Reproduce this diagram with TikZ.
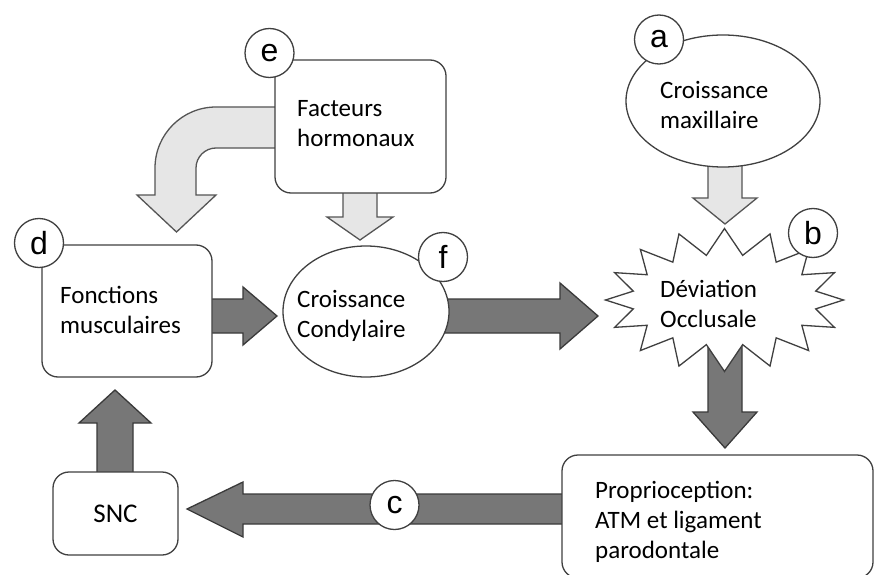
\documentclass[tikz,border=0pt]{standalone}
\usepackage{fontspec}
\setmainfont{Carlito}
\newfontfamily\letterfont{Liberation Sans}
\usetikzlibrary{shapes.geometric,shapes.symbols,calc}
\pgfdeclarelayer{back}
\pgfdeclarelayer{bg}
\pgfsetlayers{back,bg,main}
\definecolor{edge}{HTML}{404040}
\definecolor{lightfill}{HTML}{E6E6E6}
\definecolor{lightedge}{HTML}{555555}
\definecolor{darkfill}{HTML}{777777}
\definecolor{darkedge}{HTML}{3A3A3A}
\begin{document}
\begin{tikzpicture}[x=1pt,y=-1pt,
  every node/.style={font=\fontsize{25}{30}\selectfont},
  box/.style={draw=edge, line width=1.3pt, fill=white, rounded corners=16pt, inner sep=0pt},
  oval/.style={ellipse, draw=edge, line width=1.3pt, fill=white, inner sep=0pt},
  burst/.style={starburst, starburst points=16, starburst point height=26pt, random starburst=0,
    draw=edge, line width=1.3pt, fill=white, inner sep=0pt},
  tag/.style={circle, draw=edge, line width=1.3pt, fill=white, minimum size=49pt, inner sep=0pt,
    font=\letterfont\fontsize{32}{32}\selectfont},
  lightarr/.style={draw=lightedge, fill=lightfill, line width=1.3pt},
  darkarr/.style={draw=darkedge, fill=darkfill, line width=1.3pt},
  txt/.style={align=left, anchor=west, inner sep=0pt}
]
\begin{pgfonlayer}{back}
\fill[white] (0,0) rectangle (875,575);
\end{pgfonlayer}
\useasboundingbox (0,0) rectangle (875,575);

% main shapes
\node[box, minimum width=171pt, minimum height=133pt] (fh) at (360.5,126.5) {};
\node[txt] (fhtxt) at (297,124) {Facteurs\\hormonaux};

\node[box, minimum width=170pt, minimum height=132pt] (fm) at (127,311) {};
\node[txt] (fmtxt) at (60,309.5) {Fonctions\\musculaires};

\node[oval, minimum width=166pt, minimum height=131pt] (cc) at (366,311.5) {};
\node[txt] (cctxt) at (297,316) {Croissance\\Condylaire};

\node[oval, minimum width=194pt, minimum height=132pt] (cm) at (723,101) {};
\node[txt] (cmtxt) at (660,105) {Croissance\\maxillaire};

\node[burst, minimum width=238pt, minimum height=143pt] (dev) at (724.5,300) {};
\node[txt] (devtxt) at (660,304) {Déviation\\Occlusale};

\node[box, minimum width=125pt, minimum height=83pt, font=\fontsize{27}{30}\selectfont] (snc) at (115.5,513.5) {SNC};

\node[box, minimum width=311pt, minimum height=123pt] (prop) at (717.5,516.5) {};
\node[txt] (proptxt) at (595,522) {Proprioception:\\ATM et ligament\\parodontale};

% letter tags
\node[tag] (ta) at (659,39.5) {a};
\node[tag] (tb) at (813,233) {b};
\node[tag] (tc) at (394.5,505) {c};
\node[tag] (td) at (39,243) {d};
\node[tag] (te) at (269.5,53) {e};
\node[tag] (tf) at (443,257) {f};

% block arrows
\begin{pgfonlayer}{bg}
\draw[darkarr] (fm.center |- 0,299) -- (243,299) -- (243,287) -- (277,316) -- (243,345)
  -- (243,333) -- (fm.center |- 0,333) -- cycle;
\draw[darkarr] (cc.center |- 0,299) -- (560,299) -- (560,283) -- (598,316) -- (560,349)
  -- (560,333) -- (cc.center |- 0,333) -- cycle;
\draw[lightarr] (cm.center -| 708,0) -- (708,198) -- (693,198) -- (725,224) -- (757,198)
  -- (742,198) -- (cm.center -| 742,0) -- cycle;
\draw[darkarr] (dev.center -| 708,0) -- (708,412) -- (693,412) -- (725,448) -- (757,412)
  -- (742,412) -- (dev.center -| 742,0) -- cycle;
\draw[darkarr] (prop.center |- 0,494) -- (243,494) -- (243,482) -- (187,509) -- (243,537)
  -- (243,524) -- (prop.center |- 0,524) -- cycle;
\draw[darkarr] (snc.center -| 97,0) -- (97,423) -- (79,423) -- (115,390) -- (151,423)
  -- (133,423) -- (snc.center -| 133,0) -- cycle;
\draw[lightarr] (fh.center -| 343,0) -- (343,217) -- (327,217) -- (360,240) -- (393,217)
  -- (377,217) -- (fh.center -| 377,0) -- cycle;
\draw[lightarr] (fh.center |- 0,107) -- (216,107) .. controls (182.3,107) and (155,134.3) .. (155,168)
  -- (155,195) -- (137,195) -- (176.5,232) -- (216,195) -- (196,195) -- (196,168)
  .. controls (196,157) and (205,148) .. (216,148) -- (fh.center |- 0,148) -- cycle;
\end{pgfonlayer}
\end{tikzpicture}
\end{document}
